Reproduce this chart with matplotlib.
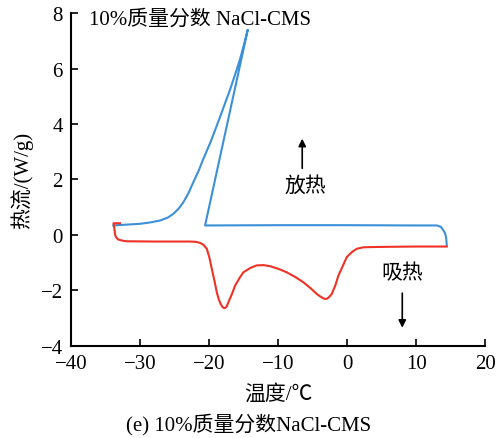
import matplotlib.pyplot as plt

plt.rcParams['font.family'] = ['Liberation Serif', 'Noto Sans CJK SC']
plt.rcParams['axes.unicode_minus'] = True

# cooling run (exothermic)
cool_t = [-33.87, -32.0, -30.0, -28.5, -27.1, -26.0, -25.17, -24.4, -23.72, -23.0,
          -22.28, -21.5, -20.83, -19.8, -18.88, -17.9, -16.96, -16.2, -15.51, -14.9,
          -14.39, -20.58, -10.0, 0.0, 10.0, 13.0, 13.6, 13.96, 14.2, 14.35, 14.45]
cool_q = [0.34, 0.37, 0.40, 0.45, 0.52, 0.62, 0.76, 0.95, 1.18, 1.50,
          1.90, 2.32, 2.74, 3.34, 3.94, 4.60, 5.24, 5.80, 6.34, 6.90,
          7.40, 0.34, 0.35, 0.35, 0.34, 0.34, 0.29, 0.16, 0.06, -0.08, -0.39]

# heating run (endothermic)
heat_t = [-32.9, -33.85, -33.8, -33.72, -33.6, -33.4, -33.14, -32.5, -31.93, -28.0,
          -24.0, -22.75, -21.9, -21.3, -20.8, -20.33, -19.95, -19.6, -19.2, -18.88,
          -18.6, -18.3, -18.05, -17.85, -17.65, -17.45, -17.2, -16.7, -16.23, -15.6,
          -15.03, -14.0, -13.1, -12.1, -11.16, -10.0, -8.74, -7.5, -6.33, -5.3,
          -4.39, -3.9, -3.5, -3.19, -2.9, -2.6, -2.22, -1.7, -1.26, -0.6,
          -0.04, 0.7, 1.41, 2.3, 3.33, 6.0, 10.0, 14.45]
heat_q = [0.42, 0.42, 0.34, 0.22, -0.02, -0.11, -0.17, -0.21, -0.23, -0.24,
          -0.24, -0.24, -0.25, -0.29, -0.36, -0.50, -0.82, -1.23, -1.68, -2.07,
          -2.32, -2.50, -2.60, -2.64, -2.63, -2.58, -2.43, -2.14, -1.83, -1.56,
          -1.35, -1.19, -1.10, -1.09, -1.13, -1.22, -1.35, -1.52, -1.71, -1.92,
          -2.13, -2.22, -2.28, -2.31, -2.30, -2.24, -2.13, -1.82, -1.47, -1.11,
          -0.80, -0.62, -0.50, -0.45, -0.44, -0.43, -0.42, -0.42]

x_ticks = [-40, -30, -20, -10, 0, 10, 20]
y_ticks = [-4, -2, 0, 2, 4, 6, 8]

fig = plt.figure(figsize=(4.97, 4.39), dpi=100)
ax = fig.add_axes([0.143, 0.21, 0.833, 0.758])

ax.plot(cool_t, cool_q, color='#3b90d8', lw=1.5)
ax.plot(heat_t, heat_q, color='#ee3226', lw=1.5)

ax.set_xlim(-40, 20)
ax.set_ylim(-4, 8)
ax.set_xticks(x_ticks)
ax.set_yticks(y_ticks)
ax.tick_params(direction='in', length=5, width=1.2, labelsize=15)
ax.tick_params(axis='x', pad=6)
ax.tick_params(axis='y', pad=6)
ax.spines['top'].set_visible(False)
ax.spines['right'].set_visible(False)
ax.spines['left'].set_linewidth(1.5)
ax.spines['bottom'].set_linewidth(1.5)

ax.set_xlabel('温度/℃', fontsize=15, labelpad=8)
ax.set_ylabel('热流/(W/g)', fontsize=15, labelpad=5)

ax.text(-37.4, 7.8, '10%质量分数 NaCl-CMS', fontsize=15, va='center', ha='left')
ax.text(-6.1, 1.77, '放热', fontsize=15, ha='center', va='center')
ax.text(8.0, -1.4, '吸热', fontsize=15, ha='center', va='center')
ax.annotate('', xy=(-6.5, 3.57), xytext=(-6.5, 2.3),
            arrowprops=dict(arrowstyle='-|>', color='black', lw=1.2, mutation_scale=11))
ax.annotate('', xy=(8.0, -3.45), xytext=(8.0, -2.0),
            arrowprops=dict(arrowstyle='-|>', color='black', lw=1.2, mutation_scale=11))

fig.text(0.5, 0.032, '(e) 10%质量分数NaCl-CMS', fontsize=15, ha='center', va='center')

fig.savefig('out.png', dpi=100)
